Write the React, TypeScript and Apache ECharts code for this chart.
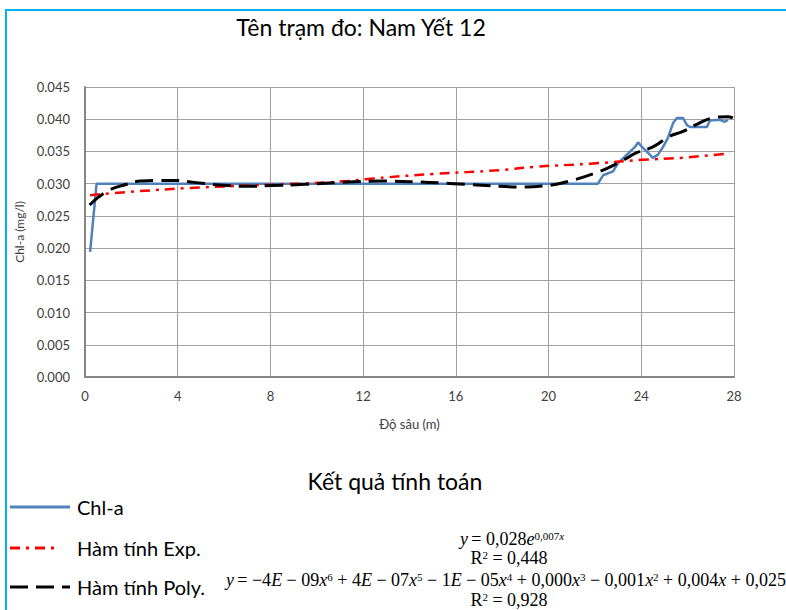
import React, { useEffect, useRef } from "react";
import * as echarts from "echarts";

const chartTitle = "Tên trạm đo: Nam Yết 12";
const resultTitle = "Kết quả tính toán";
const xAxisName = "Độ sâu (m)";
const yAxisName = "Chl-a (mg/l)";
const seriesNames = ["Chl-a", "Hàm tính Exp.", "Hàm tính Poly."];
const xTicks = [0, 4, 8, 12, 16, 20, 24, 28];
const yTicks = [0, 0.005, 0.01, 0.015, 0.02, 0.025, 0.03, 0.035, 0.04, 0.045];

// measured Chl-a profile: [depth, value]
const chlDepth = [0.22, 0.5, 22.13, 22.35, 22.78, 23.0, 23.38, 23.73, 23.86, 24.03, 24.29, 24.5, 24.72, 24.94, 25.15, 25.37, 25.54, 25.8, 25.97, 26.1, 26.83, 26.96, 27.39, 27.6, 27.74];
const chlValue = [0.0194, 0.030, 0.030, 0.0313, 0.0319, 0.0332, 0.0345, 0.0357, 0.0364, 0.0357, 0.0348, 0.0340, 0.0345, 0.0357, 0.0371, 0.0394, 0.0402, 0.0402, 0.0391, 0.0388, 0.0388, 0.0398, 0.0399, 0.0396, 0.0399];

// exponential trend line readings
const expDepth = [0.22, 1.81, 4.96, 9.28, 11.3, 12.42, 15.0, 17.9, 19.33, 21.8, 24.07, 25.67, 27.83];
const expValue = [0.0282, 0.0287, 0.0294, 0.0300, 0.0304, 0.0308, 0.0315, 0.0321, 0.0326, 0.0331, 0.0337, 0.0340, 0.0347];

// polynomial trend line readings
const polyDepth = [0.2, 1.0, 1.8, 2.4, 3.2, 3.8, 4.7, 5.8, 7.1, 8.0, 9.5, 11.6, 12.7, 14.2, 15.9, 17.9, 18.8, 19.9, 20.9, 22.2, 23.1, 23.8, 24.5, 25.2, 25.8, 26.5, 27.1, 27.7, 27.95];
const polyValue = [0.0267, 0.0289, 0.0299, 0.0304, 0.0305, 0.0305, 0.0302, 0.0298, 0.0296, 0.0297, 0.0299, 0.0303, 0.0304, 0.0303, 0.0300, 0.0296, 0.0295, 0.0297, 0.0304, 0.0319, 0.0334, 0.0348, 0.0357, 0.0373, 0.0381, 0.0394, 0.0402, 0.0404, 0.0402];

const seriesColors = ["#4F81BD", "#FF0000", "#000000"];
const seriesDash: (number[] | "solid")[] = ["solid", [10, 6, 3, 6], [18, 8]];

const zip = (xs: number[], ys: number[]) => xs.map((x, i) => [x, ys[i]]);

const serif = "Liberation Serif";
const serifRich = {
  i: { fontFamily: serif, fontStyle: "italic", fontSize: 18, lineHeight: 18, verticalAlign: "bottom", color: "#000" },
  n: { fontFamily: serif, fontSize: 18, lineHeight: 18, verticalAlign: "bottom", color: "#000" },
  s: { fontFamily: serif, fontSize: 11, lineHeight: 8, verticalAlign: "top", color: "#000" },
  si: { fontFamily: serif, fontStyle: "italic", fontSize: 11, lineHeight: 8, verticalAlign: "top", color: "#000" },
};

export default function App() {
  const ref = useRef<HTMLDivElement>(null);
  useEffect(() => {
    if (!ref.current) return;
    const chart = echarts.init(ref.current, undefined, { renderer: "svg" });
    const font = "Lato";
    const legendY = [507, 548, 587];
    const legendLen = [60, 46, 60];
    const legendGraphics: any[] = [];
    seriesNames.forEach((name, k) => {
      legendGraphics.push({
        type: "line",
        shape: { x1: 10, y1: legendY[k], x2: 10 + legendLen[k], y2: legendY[k] },
        style: {
          stroke: seriesColors[k],
          lineWidth: 3,
          lineDash: seriesDash[k] === "solid" ? null : seriesDash[k],
        },
        silent: true,
      });
      legendGraphics.push({
        type: "text",
        x: 77,
        y: legendY[k],
        style: { text: name, fontFamily: font, fontSize: 20, fill: "#000", align: "left", verticalAlign: "middle" },
      });
    });
    chart.setOption({
      animation: false,
      backgroundColor: "#ffffff",
      grid: { left: 85, right: 52, top: 87, bottom: 233 },
      xAxis: {
        type: "value",
        min: xTicks[0],
        max: xTicks[xTicks.length - 1],
        interval: 4,
        name: xAxisName,
        nameLocation: "middle",
        nameGap: 40,
        nameTextStyle: { fontFamily: font, fontSize: 13, color: "#404040" },
        axisLine: { show: true, lineStyle: { color: "#868686", width: 2 } },
        axisTick: { show: false },
        axisLabel: { fontFamily: font, fontSize: 13, color: "#404040", margin: 12 },
        splitLine: { show: true, lineStyle: { color: "#a0a0a0", width: 1 } },
      },
      yAxis: {
        type: "value",
        min: yTicks[0],
        max: yTicks[yTicks.length - 1],
        interval: 0.005,
        name: yAxisName,
        nameLocation: "middle",
        nameGap: 52,
        nameRotate: 90,
        nameTextStyle: { fontFamily: font, fontSize: 12, color: "#404040" },
        axisLine: { show: true, lineStyle: { color: "#868686", width: 2 } },
        axisTick: { show: false },
        axisLabel: { fontFamily: font, fontSize: 13, color: "#404040", margin: 15, formatter: (v: number) => v.toFixed(3) },
        splitLine: { show: true, lineStyle: { color: "#a0a0a0", width: 1 } },
      },
      series: [
        {
          name: seriesNames[0],
          type: "line",
          data: zip(chlDepth, chlValue),
          showSymbol: false,
          symbol: "none",
          lineStyle: { color: seriesColors[0], width: 2.5 },
          itemStyle: { color: seriesColors[0] },
          z: 3,
        },
        {
          name: seriesNames[1],
          type: "line",
          data: zip(expDepth, expValue),
          showSymbol: false,
          symbol: "none",
          smooth: true,
          lineStyle: { color: seriesColors[1], width: 2.5, type: seriesDash[1] },
          itemStyle: { color: seriesColors[1] },
          z: 4,
        },
        {
          name: seriesNames[2],
          type: "line",
          data: zip(polyDepth, polyValue),
          showSymbol: false,
          symbol: "none",
          smooth: true,
          lineStyle: { color: seriesColors[2], width: 3, type: seriesDash[2] },
          itemStyle: { color: seriesColors[2] },
          z: 5,
        },
      ],
      graphic: [
        {
          type: "rect",
          shape: { x: 6, y: 10, width: 900, height: 800 },
          style: { fill: "none", stroke: "#00B0F0", lineWidth: 2 },
          silent: true,
        },
        {
          type: "text",
          x: 361,
          y: 27,
          style: { text: chartTitle, fontFamily: font, fontSize: 23, fill: "#000", align: "center", verticalAlign: "middle" },
        },
        {
          type: "text",
          x: 395,
          y: 481,
          style: { text: resultTitle, fontFamily: font, fontSize: 23, fill: "#000", align: "center", verticalAlign: "middle" },
        },
        ...legendGraphics,
        {
          type: "text",
          x: 512,
          y: 539,
          style: {
            text: "{i|y} {n|= 0,028}{i|e}{s|0,007}{si|x}",
            rich: serifRich,
            align: "center",
            verticalAlign: "middle",
          },
        },
        {
          type: "text",
          x: 509,
          y: 558,
          style: { text: "{n|R}{s|2}{n| = 0,448}", rich: serifRich, align: "center", verticalAlign: "middle" },
        },
        {
          type: "text",
          x: 226,
          y: 580,
          style: {
            text: "{i|y} {n|= −4}{i|E}{n| − 09}{i|x}{s|6}{n| + 4}{i|E}{n| − 07}{i|x}{s|5}{n| − 1}{i|E}{n| − 05}{i|x}{s|4}{n| + 0,000}{i|x}{s|3}{n| − 0,001}{i|x}{s|2}{n| + 0,004}{i|x}{n| + 0,025}",
            rich: serifRich,
            align: "left",
            verticalAlign: "middle",
          },
        },
        {
          type: "text",
          x: 509,
          y: 600,
          style: { text: "{n|R}{s|2}{n| = 0,928}", rich: serifRich, align: "center", verticalAlign: "middle" },
        },
      ],
    });
    return () => chart.dispose();
  }, []);
  return <div ref={ref} style={{ position: "fixed", left: 0, top: 0, width: 786, height: 610 }} />;
}
